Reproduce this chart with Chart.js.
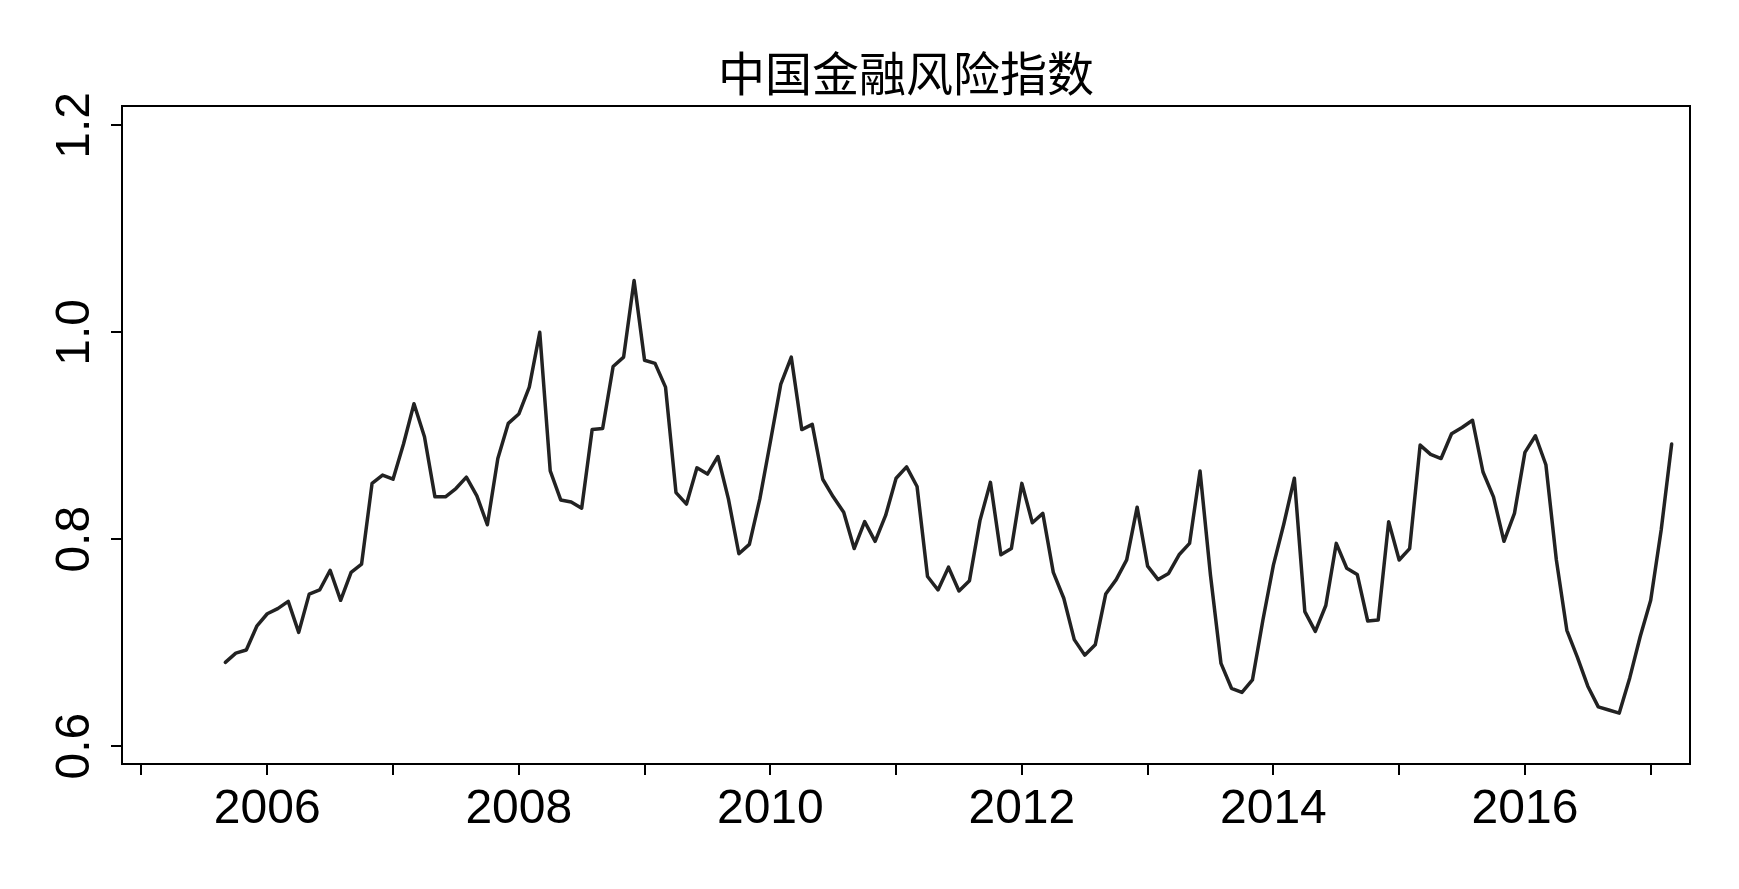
<!DOCTYPE html>
<html>
<head>
<meta charset="utf-8">
<script src="https://cdn.jsdelivr.net/npm/chart.js@4.4.1/dist/chart.umd.min.js"></script>
<style>
  html, body { margin: 0; padding: 0; background: #fff; }
  #wrap { width: 1739px; height: 889px; position: relative; }
</style>
</head>
<body>
<div id="wrap"><canvas id="riskChart"></canvas></div>
<script>
// monthly series, starts 2005-09
const startYear = 2005;
const startMonth = 9;

const riskIndex = [
  0.681, 0.690, 0.693, 0.716, 0.728, 0.733, 0.740, 0.710, 0.747, 0.751,
  0.770, 0.741, 0.768, 0.776, 0.854, 0.862, 0.858, 0.892, 0.931, 0.899,
  0.841, 0.841, 0.849, 0.860, 0.842, 0.814, 0.878, 0.912, 0.921, 0.947,
  1.000, 0.866, 0.838, 0.836, 0.830, 0.906, 0.907, 0.967, 0.976, 1.050,
  0.973, 0.970, 0.947, 0.845, 0.834, 0.869, 0.863, 0.880, 0.839, 0.786,
  0.795, 0.839, 0.894, 0.950, 0.976, 0.906, 0.911, 0.858, 0.841, 0.826,
  0.791, 0.817, 0.798, 0.823, 0.859, 0.870, 0.851, 0.764, 0.751, 0.773,
  0.750, 0.760, 0.818, 0.855, 0.785, 0.791, 0.854, 0.816, 0.825, 0.768,
  0.743, 0.703, 0.688, 0.698, 0.747, 0.761, 0.780, 0.831, 0.774, 0.761,
  0.767, 0.785, 0.796, 0.866, 0.765, 0.680, 0.656, 0.652, 0.664, 0.722,
  0.775, 0.815, 0.859, 0.730, 0.711, 0.736, 0.796, 0.772, 0.766, 0.721,
  0.722, 0.817, 0.780, 0.791, 0.891, 0.882, 0.878, 0.902, 0.908, 0.915,
  0.865, 0.841, 0.798, 0.825, 0.884, 0.900, 0.872, 0.780, 0.712, 0.686,
  0.658, 0.638, 0.635, 0.632, 0.666, 0.706, 0.741, 0.809, 0.892
];

const xTickYears = [2005, 2006, 2007, 2008, 2009, 2010, 2011, 2012, 2013, 2014, 2015, 2016, 2017];
const xTickLabels = ['', '2006', '', '2008', '', '2010', '', '2012', '', '2014', '', '2016', ''];
const yTickValues = [0.6, 0.8, 1.0, 1.2];
const yTickLabels = ['0.6', '0.8', '1.0', '1.2'];

const chartTitle = '中国金融风险指数';

// time position of each month (R style ts time)
const points = riskIndex.map((v, i) => ({
  x: startYear + (startMonth - 1 + i) / 12,
  y: v
}));

// plot frame like R's box()
const boxPlugin = {
  id: 'boxPlugin',
  afterDraw(chart) {
    const a = chart.chartArea;
    const ctx = chart.ctx;
    ctx.save();
    ctx.strokeStyle = '#000';
    ctx.lineWidth = 2;
    ctx.strokeRect(a.left, a.top, a.right - a.left, a.bottom - a.top);
    ctx.restore();
  }
};

const ctx = document.getElementById('riskChart').getContext('2d');

new Chart(ctx, {
  type: 'line',
  data: {
    datasets: [{
      data: points,
      borderColor: '#222222',
      borderWidth: 3.5,
      pointRadius: 0,
      tension: 0,
      borderJoinStyle: 'round',
      borderCapStyle: 'round',
      fill: false
    }]
  },
  options: {
    responsive: true,
    maintainAspectRatio: false,
    animation: false,
    layout: { padding: { left: 0, right: 49, top: 0, bottom: 0 } },
    plugins: {
      legend: { display: false },
      tooltip: { enabled: false },
      title: {
        display: true,
        fullSize: false,   // centre over the plot box, not the whole canvas
        text: chartTitle,
        color: '#000',
        font: { family: '"Noto Sans CJK SC", sans-serif', size: 47, weight: 'normal', lineHeight: 1.2 },
        padding: { top: 45, bottom: 4.6 }
      }
    },
    scales: {
      x: {
        type: 'linear',
        min: 2004.845,
        max: 2017.3125,
        afterBuildTicks: (scale) => {
          scale.ticks = xTickYears.map(v => ({ value: v }));
        },
        afterFit: (scale) => { scale.height = 125; },
        grid: { drawOnChartArea: false, drawTicks: true, tickLength: 11, color: '#000', lineWidth: 2 },
        border: { display: true, color: '#000', width: 2 },
        ticks: {
          color: '#000',
          font: { family: '"Liberation Sans", Arial, sans-serif', size: 48 },
          padding: 6,
          autoSkip: false,
          maxRotation: 0,
          minRotation: 0,
          callback: (value, index) => xTickLabels[index]
        }
      },
      y: {
        type: 'linear',
        min: 0.5828,
        max: 1.2187,
        afterBuildTicks: (scale) => {
          scale.ticks = yTickValues.map(v => ({ value: v }));
        },
        afterFit: (scale) => { scale.width = 122; },
        grid: { drawOnChartArea: false, drawTicks: true, tickLength: 11, color: '#000', lineWidth: 2 },
        border: { display: true, color: '#000', width: 2 },
        ticks: {
          color: '#000',
          font: { family: '"Liberation Sans", Arial, sans-serif', size: 48 },
          padding: 2,
          autoSkip: false,
          minRotation: 90,
          maxRotation: 90,
          crossAlign: 'center',
          callback: (value, index) => yTickLabels[index]
        }
      }
    }
  },
  plugins: [boxPlugin]
});
</script>
</body>
</html>
